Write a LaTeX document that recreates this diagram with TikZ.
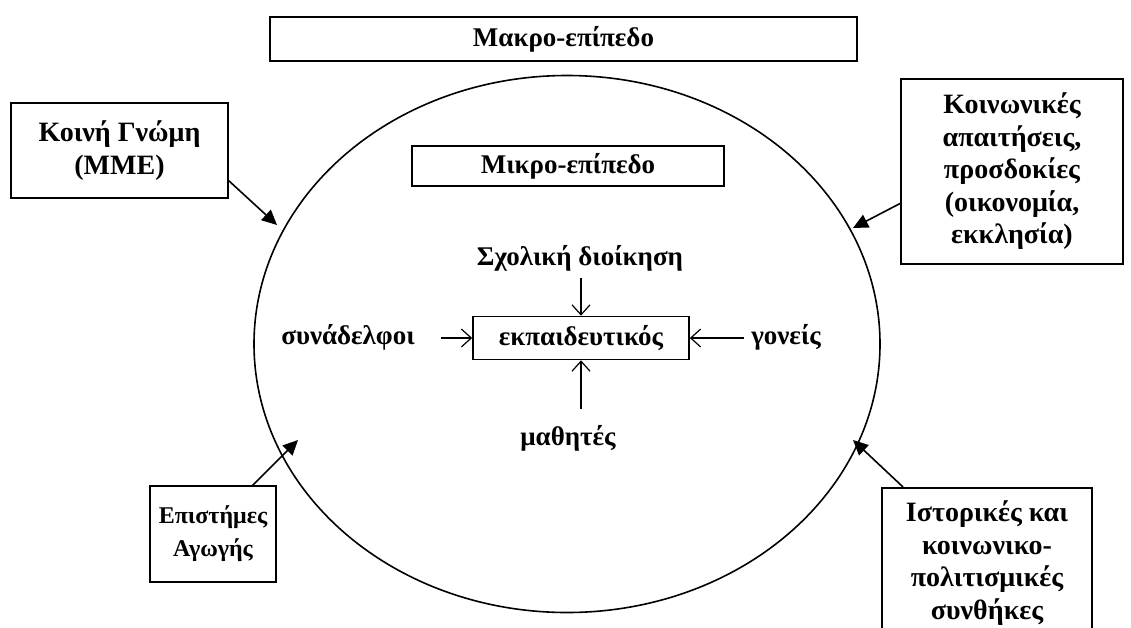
\documentclass[tikz,border=0pt]{standalone}
\usepackage{fontspec}
\setmainfont{Liberation Serif}
\usetikzlibrary{arrows.meta,shapes.geometric}
\begin{document}
\begin{tikzpicture}[x=1pt,y=-1pt,
  every node/.style={font=\fontsize{27}{33}\selectfont\bfseries, inner sep=0pt},
  outer/.style={font=\fontsize{28}{32.5}\selectfont\bfseries},
  smalltext/.style={font=\fontsize{24}{33}\selectfont\bfseries},
  boxnode/.style={draw, line width=1.6pt, align=center},
  bigarrow/.style={line width=1.6pt, -{Triangle[length=15pt,width=14pt]}},
  smallarrow/.style={line width=1.2pt, -{Straight Barb[length=10pt,width=18pt,line width=1.2pt]}}]
\useasboundingbox (0,0) rectangle (1131,627);
\node[boxnode, minimum width=587pt, minimum height=44pt] (macro) at (563.5,39) {Μακρο-επίπεδο};
\node[draw, ellipse, line width=1.6pt, minimum width=626pt, minimum height=537pt] (ell) at (567,344) {};
\node[boxnode, minimum width=312pt, minimum height=40pt] (micro) at (568,166) {Μικρο-επίπεδο};
\node[boxnode, minimum width=216pt, minimum height=43pt] (ek) at (581,338) {εκπαιδευτικός};
\node (sd) at (580,258) {Σχολική διοίκηση};
\node (syn) at (348,337) {συνάδελφοι};
\node (gon) at (786,337) {γονείς};
\node (mat) at (568,438) {μαθητές};
\coordinate (sdA) at (581,278);
\coordinate (synA) at (441,338);
\coordinate (gonA) at (744,338);
\coordinate (matA) at (581,409);
\draw[smallarrow] (sdA) -- (ek.north -| sdA);
\draw[smallarrow] (synA) -- (ek.west |- synA);
\draw[smallarrow] (gonA) -- (ek.east |- gonA);
\draw[smallarrow] (matA) -- (ek.south -| matA);
\node[boxnode, outer, minimum width=217pt, minimum height=95pt] (kg) at (119.5,150.5) {Κοινή Γνώμη\\(ΜΜΕ)};
\node[boxnode, outer, minimum width=222pt, minimum height=185pt] (ka) at (1012,171.5) {Κοινωνικές\\απαιτήσεις,\\προσδοκίες\\(οικονομία,\\εκκλησία)};
\node[boxnode, smalltext, minimum width=126pt, minimum height=96pt] (ea) at (213,534) {Επιστήμες\\Αγωγής};
\node[boxnode, minimum width=210pt, minimum height=153pt, anchor=north] (is) at (987,487) {};
\node[outer, align=center] (istxt) at (987,563) {Ιστορικές και\\κοινωνικο-\\πολιτισμικές\\συνθήκες};
\coordinate (kgA) at (228,180);
\coordinate (kgB) at (277,225);
\coordinate (kaA) at (901,203);
\coordinate (kaB) at (853,228);
\coordinate (eaA) at (252,486);
\coordinate (eaB) at (298,440);
\coordinate (isA) at (903,487);
\coordinate (isB) at (853,440);
\draw[bigarrow] (kgA) -- (kgB);
\draw[bigarrow] (kaA) -- (kaB);
\draw[bigarrow] (eaA) -- (eaB);
\draw[bigarrow] (isA) -- (isB);
\end{tikzpicture}
\end{document}
